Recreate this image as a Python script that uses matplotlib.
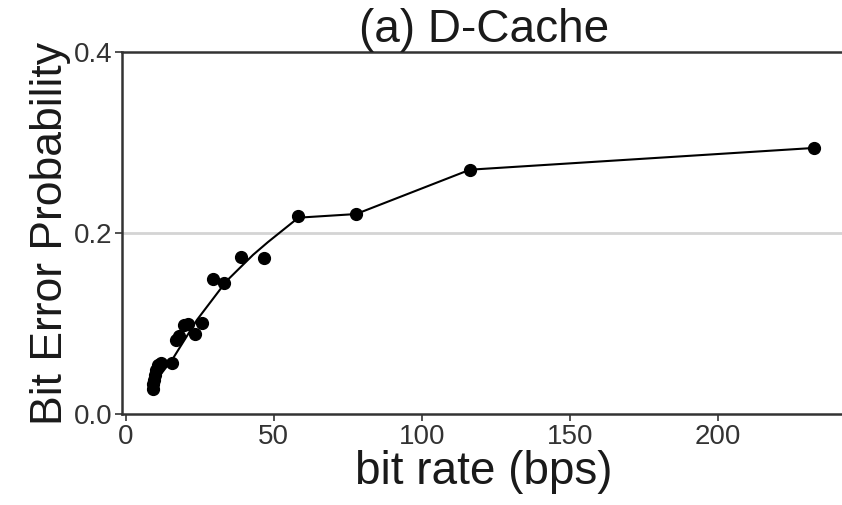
import numpy as np
import matplotlib
matplotlib.use("Agg")
import matplotlib.pyplot as plt

plt.rcParams['font.family'] = ['Liberation Sans', 'DejaVu Sans']

# measured points
bit_rate = [9.0, 9.2, 9.4, 9.7, 10.1, 10.8, 12.0, 15.7, 16.8, 17.8, 19.6, 21.0,
            23.5, 25.8, 29.3, 33.3, 39.0, 46.8, 58.3, 77.8, 116.3, 232.5]
bit_err = [0.028, 0.033, 0.038, 0.043, 0.049, 0.054, 0.057, 0.057, 0.082, 0.086,
           0.098, 0.100, 0.088, 0.101, 0.149, 0.145, 0.173, 0.172, 0.219, 0.221,
           0.270, 0.294]

# fitted curve
fit_rate = [8.5, 16, 24, 34, 43, 48, 58.3, 77.8, 116.3, 232.5]
fit_err = [0.030, 0.062, 0.104, 0.147, 0.176, 0.190, 0.217, 0.221, 0.270, 0.294]

yticks = [0.0, 0.2, 0.4]
xticks = [0, 50, 100, 150, 200]

fig = plt.figure(figsize=(8.42, 5.05), dpi=100)
ax = fig.add_axes([0.145, 0.18, 0.86, 0.717])

ax.axhline(0.2, color="#d4d4d4", lw=2, zorder=0)
ax.plot(fit_rate, fit_err, "k-", lw=1.5, zorder=2)
ax.plot(bit_rate, bit_err, "ko", ms=8.5, zorder=3)

ax.set_xlim(-1.3, 243.5)
ax.set_ylim(0, 0.4)
ax.set_xticks(xticks)
ax.set_yticks(yticks)
ax.set_yticklabels(["0.0", "0.2", "0.4"])

for s in ax.spines.values():
    s.set_color("#333333")
    s.set_linewidth(1.8)
ax.spines["right"].set_visible(False)
ax.tick_params(colors="#333333", labelsize=20, length=5, width=1.2, pad=2)
ax.tick_params(axis="both", labelcolor="#333333")

ax.set_title("(a) D-Cache", fontsize=33, pad=2, color="#1a1a1a")
ax.set_xlabel("bit rate (bps)", fontsize=33, labelpad=0, color="#1a1a1a")
ax.set_ylabel("Bit Error Probability", fontsize=32, labelpad=2, color="#1a1a1a")

fig.savefig("out.png", dpi=100)
